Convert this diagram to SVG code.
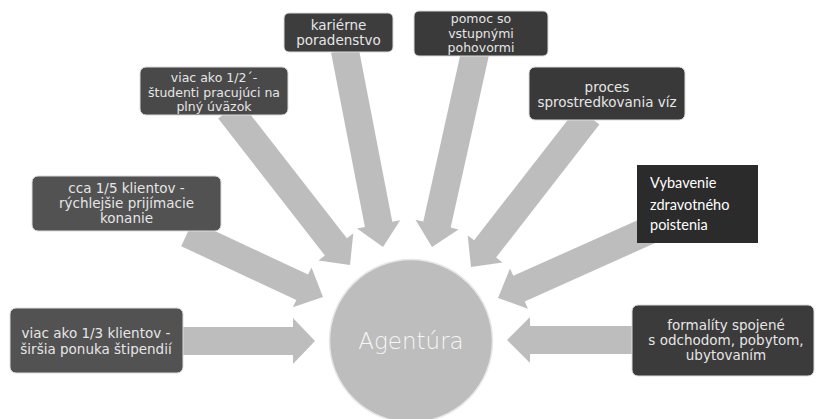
<svg xmlns="http://www.w3.org/2000/svg" width="817" height="419" viewBox="0 0 817 419">
<style>
.arrow{fill:#bcbdbc;stroke:none}
.box{stroke:#dcdcdc;stroke-width:1}
.t{font-family:"DejaVu Sans","Liberation Sans",sans-serif;font-size:13.5px;fill:#e6e6e6;text-anchor:middle}
.s{font-size:12.5px}
.t7{font-family:Lato,"Liberation Sans",sans-serif;font-size:14.5px;fill:#ffffff}
.hub{font-family:"DejaVu Sans","Liberation Sans",sans-serif;font-size:23px;font-weight:300;fill:#f7f7f7;text-anchor:middle}
</style>
<rect width="817" height="419" fill="#ffffff"/>
<g id="connectors">
<polygon class="arrow" points="183,327 293,327 293,318 315,341 293,364 293,355 183,355"/>
<polygon class="arrow" points="181.2,246.2 296.3,300 292.9,307.2 323,297 311.5,267.4 308.1,274.6 193,220.8"/>
<polygon class="arrow" points="218.2,118.6 324.9,255.5 318.5,260.4 350,265 353.3,233.4 346.9,238.3 240.2,101.4"/>
<polygon class="arrow" points="331.1,52.7 364.9,227.1 357,228.6 383,247 400.2,220.2 392.3,221.7 358.5,47.3"/>
<polygon class="arrow" points="461.6,49 423.3,221.6 415.5,219.8 432,247 458.5,229.4 450.7,227.6 489,55"/>
<polygon class="arrow" points="577.4,107.4 474.1,240.3 467.7,235.4 471,267 502.5,262.4 496.1,257.5 599.4,124.6"/>
<polygon class="arrow" points="654.3,212.7 513.3,275.8 510,268.5 498,298 528,308.7 524.7,301.4 665.7,238.3"/>
<polygon class="arrow" points="640,326 530,326 530,317 507,340 530,363 530,354 640,354"/>
</g>
<g id="hub">
<circle cx="411" cy="341" r="81.5" fill="#bcbdbc" stroke="#e8e8e8" stroke-width="1.5"/>
<text class="hub" x="411" y="349">Agentúra</text>
</g>
<g id="n1">
<rect class="box" x="10" y="308" width="173" height="65" rx="6" fill="#525252"/>
<text class="t" x="96" y="338">viac ako 1/3 klientov -</text>
<text class="t" x="96" y="354">širšia ponuka štipendií</text>
</g>
<g id="n2">
<rect class="box" x="32" y="176" width="189" height="55" rx="6" fill="#525252"/>
<text class="t" x="126.5" y="193">cca 1/5 klientov -</text>
<text class="t" x="126.5" y="208">rýchlejšie prijímacie</text>
<text class="t" x="126.5" y="223">konanie</text>
</g>
<g id="n3">
<rect class="box" x="140" y="67" width="148" height="48" rx="6" fill="#494949"/>
<text class="t s" x="214" y="82">viac ako 1/2´-</text>
<text class="t s" x="214" y="96.5">študenti pracujúci na</text>
<text class="t s" x="214" y="111">plný úväzok</text>
</g>
<g id="n4">
<rect class="box" x="284" y="13" width="109" height="39" rx="5" fill="#3d3d3d"/>
<text class="t" x="338.5" y="30">kariérne</text>
<text class="t" x="338.5" y="45">poradenstvo</text>
</g>
<g id="n5">
<rect class="box" x="414" y="11" width="134" height="45" rx="5" fill="#3a3a3a"/>
<text class="t s" x="481" y="23">pomoc so</text>
<text class="t s" x="481" y="37.5">vstupnými</text>
<text class="t s" x="481" y="52">pohovormi</text>
</g>
<g id="n6">
<rect class="box" x="529" y="67" width="156" height="53" rx="6" fill="#393939"/>
<text class="t" x="607" y="92">proces</text>
<text class="t" x="607" y="107">sprostredkovania víz</text>
</g>
<g id="n7">
<rect x="637" y="165" width="121" height="78" fill="#2b2b2b"/>
<text class="t7" x="650" y="188">Vybavenie</text>
<text class="t7" x="650" y="210">zdravotného</text>
<text class="t7" x="650" y="230">poistenia</text>
</g>
<g id="n8">
<rect class="box" x="632" y="305" width="182" height="71" rx="6" fill="#3b3b3b"/>
<text class="t" x="726" y="330">formalíty spojené</text>
<text class="t" x="726" y="345">s odchodom, pobytom,</text>
<text class="t" x="726" y="360">ubytovaním</text>
</g>
</svg>
